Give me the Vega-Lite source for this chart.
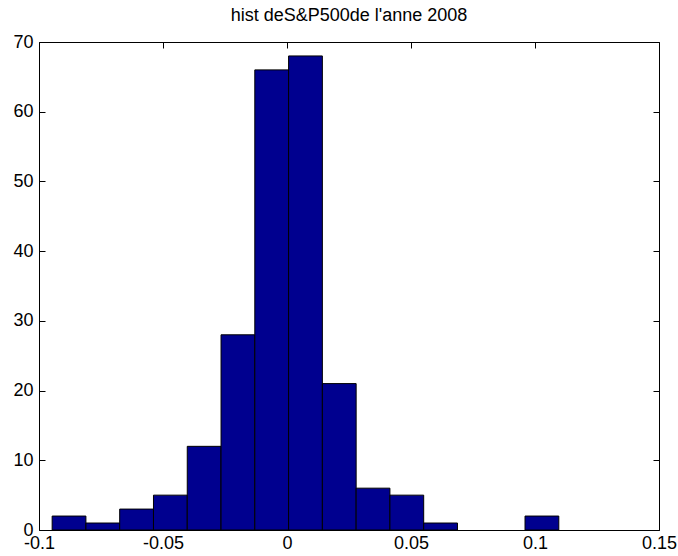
{
  "$schema": "https://vega.github.io/schema/vega-lite/v6.json",
  "width": 620,
  "height": 488,
  "autosize": {"type": "none"},
  "padding": {"left": 39, "top": 42, "right": 19, "bottom": 26},
  "background": "white",
  "config": {
    "font": "Liberation Sans",
    "view": {"stroke": "black", "strokeWidth": 1},
    "axis": {"grid": false, "domain": false, "tickColor": "black", "tickWidth": 1, "labelColor": "black", "labelFont": "Liberation Sans", "labelFontSize": 18, "title": null}
  },
  "title": {"text": "hist deS&P500de l'anne 2008", "font": "Liberation Sans", "fontSize": 18, "fontWeight": "normal", "color": "black", "anchor": "middle", "offset": 8},
  "data": {"values": [
    {"start": -0.0947, "end": -0.08108, "count": 2},
    {"start": -0.08108, "end": -0.06746, "count": 1},
    {"start": -0.06746, "end": -0.05384, "count": 3},
    {"start": -0.05384, "end": -0.04022, "count": 5},
    {"start": -0.04022, "end": -0.0266, "count": 12},
    {"start": -0.0266, "end": -0.01298, "count": 28},
    {"start": -0.01298, "end": 0.00064, "count": 66},
    {"start": 0.00064, "end": 0.01426, "count": 68},
    {"start": 0.01426, "end": 0.02788, "count": 21},
    {"start": 0.02788, "end": 0.0415, "count": 6},
    {"start": 0.0415, "end": 0.05512, "count": 5},
    {"start": 0.05512, "end": 0.06874, "count": 1},
    {"start": 0.09598, "end": 0.1096, "count": 2}
  ]},
  "layer": [
    {
      "mark": {"type": "bar", "fill": "#00008F", "stroke": "black", "strokeWidth": 1},
      "encoding": {
        "x": {"field": "start", "type": "quantitative", "scale": {"domain": [-0.1, 0.15], "nice": false, "zero": false},
              "axis": {"orient": "bottom", "values": [-0.1, -0.05, 0, 0.05, 0.1, 0.15], "tickSize": -6, "labelPadding": 10, "labelFlush": false, "labelExpr": "datum.value == 0 ? '0' : replace(format(datum.value, '.2~f'), '−', '-')"}},
        "x2": {"field": "end"},
        "y": {"field": "count", "type": "quantitative", "scale": {"domain": [0, 70], "nice": false},
              "axis": {"orient": "left", "values": [0, 10, 20, 30, 40, 50, 60, 70], "tickSize": -6, "labelPadding": 12}},
        "y2": {"datum": 0}
      }
    },
    {
      "mark": {"type": "bar", "opacity": 0},
      "encoding": {
        "x": {"field": "start", "type": "quantitative", "axis": {"orient": "top", "values": [-0.1, -0.05, 0, 0.05, 0.1, 0.15], "tickSize": -6, "labels": false}},
        "x2": {"field": "end"},
        "y": {"field": "count", "type": "quantitative", "axis": {"orient": "right", "values": [0, 10, 20, 30, 40, 50, 60, 70], "tickSize": -6, "labels": false}},
        "y2": {"datum": 0}
      }
    }
  ],
  "resolve": {"axis": {"x": "independent", "y": "independent"}}
}
